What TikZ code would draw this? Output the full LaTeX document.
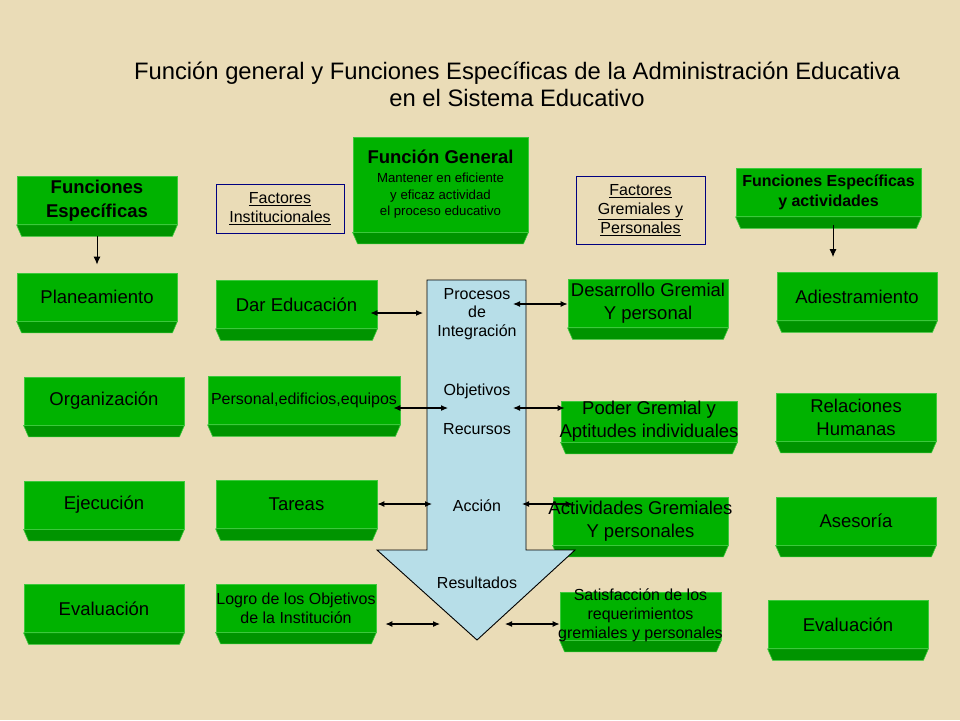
\documentclass[tikz,border=0pt]{standalone}
\usepackage{fontspec}
\setmainfont{Liberation Sans}
\usetikzlibrary{arrows.meta,backgrounds}
\definecolor{paper}{RGB}{234,220,183}
\definecolor{facegreen}{RGB}{0,178,0}
\definecolor{edgegreen}{RGB}{60,200,60}
\definecolor{stripgreen}{RGB}{0,148,0}
\definecolor{flowblue}{RGB}{183,222,232}
\definecolor{factorline}{RGB}{0,0,128}
\newcommand\ovltext[1]{\makebox[0pt]{\smash{\raisebox{-.25em}{\begin{tabular}{@{}c@{}}#1\end{tabular}}}}}
\tikzset{
  gbox/.style   = {rectangle, fill=facegreen, draw=edgegreen, line width=0.8pt,
                   inner sep=0pt, align=center,
                   minimum width=160pt, minimum height=48pt,
                   font=\fontsize{18.5}{23}\selectfont},
  ghead/.style  = {gbox, font=\bfseries\fontsize{18.5}{24}\selectfont},
  gsmall/.style = {gbox, font=\fontsize{16}{19}\selectfont},
  strip/.style  = {fill=stripgreen, draw=edgegreen, line width=0.6pt},
  factor/.style = {rectangle, draw=factorline, line width=0.8pt, inner sep=0pt,
                   align=center, font=\fontsize{16}{19}\selectfont},
  flow/.style   = {align=center, font=\fontsize{16}{18.5}\selectfont},
  both/.style   = {{Latex[length=7pt,width=6pt]}-{Latex[length=7pt,width=6pt]},
                   line width=1.1pt},
  down/.style   = {-{Latex[length=8pt,width=7pt]}, line width=1pt}
}
\begin{document}
\begin{tikzpicture}
  [
    x = 1pt,
    y = -1pt
  ]
  \useasboundingbox (0,0) rectangle (960,720);
  \node[font=\fontsize{23.8}{27}\selectfont, align=center] (title) at (517,84)
    {Función general y Funciones Específicas de la Administración Educativa\\
     en el Sistema Educativo};

  % central arrow
  \coordinate (aTL) at (427,280);
  \coordinate (aTR) at (526,280);
  \coordinate (aBR) at (526,550);
  \coordinate (aHR) at (575,550);
  \coordinate (aTip) at (477,640);
  \coordinate (aHL) at (377,550);
  \coordinate (aBL) at (427,550);
  \draw[fill=flowblue, line width=0.9pt]
    (aTL) -- (aTR) -- (aBR) -- (aHR) -- (aTip) -- (aHL) -- (aBL) -- cycle;
  \node[flow] (proc) at (477,314) {Procesos\\de\\Integración};
  \node[flow] (obj) at (477,391) {Objetivos};
  \node[flow] (rec) at (477,429) {Recursos};
  \node[flow] (acc) at (477,506) {Acción};
  \node[flow] (res) at (477,583) {Resultados};

  % left column
  \node[ghead] (fe) at (97,200.5) {Funciones\\Específicas};
  \node[gbox] (plan) at (97,297) {Planeamiento};
  \node[gbox] (org) at (104,401) {Organización};
  \node[gbox] (ejec) at (104,505) {Ejecución};
  \node[gbox] (evalL) at (104,608.5) {Evaluación};

  % institution column
  \node[factor, minimum width=128pt, minimum height=49pt] (finst) at (280,208.5)
    {\underline{Factores}\\\underline{Institucionales}};
  \node[gbox, minimum width=161pt] (dar) at (296.5,304.5) {Dar Educación};
  \node[gsmall, minimum width=192pt] (pers) at (304,400.5) {Personal,edificios,equipos};
  \node[gbox, minimum width=161pt] (tareas) at (296.5,504.5) {Tareas};
  \node[gsmall] (logro) at (296,608) {Logro de los Objetivos\\de la Institución};

  % general function
  \node[gbox, minimum width=175pt, minimum height=95pt,
        font=\fontsize{13.2}{16.5}\selectfont] (fgen) at (440.5,184.5)
    {{\bfseries\fontsize{18.5}{20}\selectfont Función General}\\[2.5pt]Mantener en eficiente\\
     y eficaz actividad\\el proceso educativo};

  % union column
  \node[factor, minimum width=129pt, minimum height=68pt] (fgrem) at (640.5,210)
    {\underline{Factores}\\\underline{Gremiales y}\\\underline{Personales}};
  \node[gbox] (des) at (648,303.5) {Desarrollo Gremial\\Y personal};
  \node[gbox, minimum width=176pt, minimum height=41pt] (poder) at (649,421.5)
    {\ovltext{Poder Gremial y\\Aptitudes individuales}};
  \node[gbox, minimum width=175pt] (activ) at (640.5,521)
    {\ovltext{Actividades Gremiales\\Y personales}};
  \node[gsmall, minimum width=161pt] (satis) at (640.5,616)
    {\ovltext{Satisfacción de los\\requerimientos\\gremiales y personales}};

  % right column
  \node[ghead, minimum width=185pt, font=\bfseries\fontsize{16}{20}\selectfont] (fea)
    at (828.5,192.5) {Funciones Específicas\\y actividades};
  \node[gbox] (adies) at (857,296.5) {Adiestramiento};
  \node[gbox] (relac) at (856,417) {Relaciones\\Humanas};
  \node[gbox] (ases) at (856,521) {Asesoría};
  \node[gbox] (evalR) at (848,624.5) {Evaluación};

  % paper and bevels
  \begin{scope}[on background layer]
    \fill[paper] (0,0) rectangle (960,720);
    \foreach \b in {fe,plan,org,ejec,evalL,dar,pers,tareas,logro,fgen,
                    des,poder,activ,satis,fea,adies,relac,ases,evalR}
      \draw[strip] (\b.south west) -- (\b.south east)
        -- ([xshift=-5pt,yshift=-11.5pt]\b.south east)
        -- ([xshift=5pt,yshift=-11.5pt]\b.south west) -- cycle;
  \end{scope}

  % connectors
  \draw[down] ([yshift=-11pt]fe.south) -- ([yshift=8pt]plan.north);
  \coordinate (feaArr) at ([xshift=4.5pt,yshift=-8pt]fea.south);
  \draw[down] (feaArr) -- ([yshift=15pt]adies.north -| feaArr);

  \coordinate (pDar) at (423,313);
  \coordinate (pDes) at (513,304);
  \coordinate (pPers) at (448,408);
  \coordinate (pPod) at (513,408);
  \coordinate (pTar) at (432,504);
  \coordinate (pAct) at (522,504);
  \coordinate (pLog) at (440,624);
  \coordinate (pSat) at (505,624);
  \draw[both] ([xshift=-7pt]dar.east |- pDar) -- (pDar);
  \draw[both] (pDes) -- (des.west |- pDes);
  \draw[both] ([xshift=-7pt]pers.east |- pPers) -- (pPers);
  \draw[both] (pPod) -- ([xshift=4pt]poder.west |- pPod);
  \draw[both] (tareas.east |- pTar) -- (pTar);
  \draw[both] (pAct) -- ([xshift=20pt]activ.west |- pAct);
  \draw[both] ([xshift=9pt]logro.east |- pLog) -- (pLog);
  \draw[both] (pSat) -- (satis.west |- pSat);
\end{tikzpicture}
\end{document}
